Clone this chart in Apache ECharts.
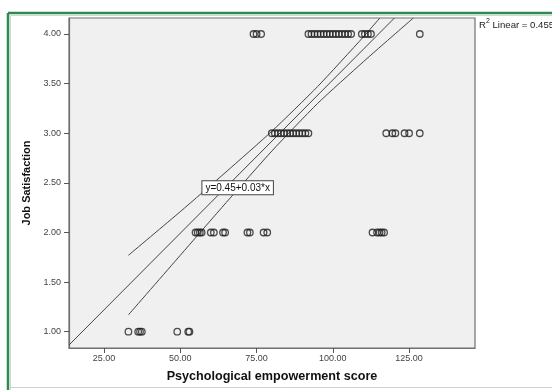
<!DOCTYPE html>
<html>
<head>
<meta charset="utf-8">
<script src="https://cdn.jsdelivr.net/npm/echarts@6/dist/echarts.min.js"></script>
<style>
html,body{margin:0;padding:0;background:#fff;}
#c{width:552px;height:390px;}
</style>
</head>
<body>
<div id="c"></div>
<script>
// Tick labels
const xTicks = [25, 50, 75, 100, 125];
const yTicks = [1, 1.5, 2, 2.5, 3, 3.5, 4];

// Observed points: psychological empowerment score per job-satisfaction level
const score1 = [33, 36.2, 36.8, 37.4, 49, 52.6, 53];
const score2 = [55, 55.7, 56.4, 57, 60, 61, 64, 64.7, 72, 72.8, 77.3, 78.5, 113, 114.5, 115.3, 116, 116.8];
const score3 = [80, 81, 82, 83, 84, 85, 86, 87, 88, 89, 90, 91, 92, 117.5, 119.5, 120.5, 123.5, 125, 128.5];
const score4 = [74, 75, 76.5, 92, 93, 94, 95, 96, 97, 98, 99, 100, 101, 102, 103, 104, 105, 106, 109.5, 110.5, 111.5, 112.5, 128.5];
const levels = [1, 2, 3, 4];

// Fit line endpoints
const fitX = [13.52, 120.2];
const fitY = [0.866, 4.161];

// Confidence band
const ciUpperX = [33, 50, 65, 80, 95, 110, 115.4];
const ciUpperY = [1.77, 2.21, 2.61, 3.02, 3.47, 3.97, 4.161];
const ciLowerX = [33, 50, 65, 80, 95, 110, 120, 126.4];
const ciLowerY = [1.17, 1.77, 2.30, 2.82, 3.30, 3.72, 3.99, 4.161];

const eqText = 'y=0.45+0.03*x';
const legendText = 'Linear = 0.455';

const FONT = '"Liberation Sans", Arial, sans-serif';

const scatterData = [];
[score1, score2, score3, score4].forEach((arr, i) => {
  arr.forEach(v => scatterData.push([v, levels[i]]));
});
const zip = (a, b) => a.map((v, i) => [v, b[i]]);

const chart = echarts.init(document.getElementById('c'), null, {renderer: 'canvas'});
chart.setOption({
  animation: false,
  backgroundColor: '#fff',
  grid: {
    left: 69, top: 18, width: 406, height: 330,
    show: true, backgroundColor: '#f0f0f0', borderColor: '#707070', borderWidth: 1.2
  },
  xAxis: {
    type: 'value', min: 13.52, max: 146.6,
    name: 'Psychological empowerment score',
    nameLocation: 'middle', nameGap: 22,
    nameTextStyle: {fontFamily: FONT, fontWeight: 'bold', fontSize: 12.6, color: '#111'},
    axisLine: {show: true, lineStyle: {color: '#707070', width: 1.2}},
    axisTick: {show: true, length: 5, customValues: xTicks, lineStyle: {color: '#555'}},
    axisLabel: {customValues: xTicks, margin: 6, fontFamily: FONT, fontSize: 9, color: '#444',
      formatter: v => v.toFixed(2)},
    splitLine: {show: false}
  },
  yAxis: {
    type: 'value', min: 0.836, max: 4.161,
    name: 'Job Satisfaction',
    nameLocation: 'middle', nameGap: 35, nameRotate: 90,
    nameTextStyle: {fontFamily: FONT, fontWeight: 'bold', fontSize: 11, color: '#111'},
    axisLine: {show: true, lineStyle: {color: '#707070', width: 1.2}},
    axisTick: {show: true, length: 5, customValues: yTicks, lineStyle: {color: '#555'}},
    axisLabel: {customValues: yTicks, margin: 8, fontFamily: FONT, fontSize: 9, color: '#444',
      formatter: v => v.toFixed(2)},
    splitLine: {show: false}
  },
  series: [
    {
      type: 'line', data: zip(ciUpperX, ciUpperY), showSymbol: false, smooth: 0.2,
      lineStyle: {color: '#444', width: 1}, z: 3
    },
    {
      type: 'line', data: zip(ciLowerX, ciLowerY), showSymbol: false, smooth: 0.2,
      lineStyle: {color: '#444', width: 1}, z: 3
    },
    {
      type: 'line', data: zip(fitX, fitY), showSymbol: false,
      lineStyle: {color: '#444', width: 1}, z: 3,
      markPoint: {
        symbol: 'rect', symbolSize: 0,
        data: [{coord: [68.8, 2.45]}],
        label: {
          show: true, position: 'inside', formatter: eqText,
          backgroundColor: '#fff', borderColor: '#444', borderWidth: 1,
          padding: [2, 3, 1, 3], color: '#111', fontSize: 10, fontFamily: FONT
        }
      }
    },
    {
      type: 'scatter', data: scatterData, symbol: 'circle', symbolSize: 6.5,
      itemStyle: {color: 'rgba(0,0,0,0)', borderColor: '#222', borderWidth: 1.3}, z: 4
    }
  ],
  graphic: [
    {type: 'line', shape: {x1: 8, y1: 13, x2: 560, y2: 13}, style: {stroke: '#2e8b50', lineWidth: 2.5}},
    {type: 'line', shape: {x1: 8, y1: 13, x2: 8, y2: 395}, style: {stroke: '#2e8b50', lineWidth: 2.5}},
    {type: 'line', shape: {x1: 10.5, y1: 15.5, x2: 560, y2: 15.5}, style: {stroke: '#c8dccd', lineWidth: 1}},
    {type: 'line', shape: {x1: 10.5, y1: 15.5, x2: 10.5, y2: 395}, style: {stroke: '#c8dccd', lineWidth: 1}},
    {type: 'line', shape: {x1: 10, y1: 387.5, x2: 560, y2: 387.5}, style: {stroke: '#d0d0d0', lineWidth: 1}},
    {
      type: 'text', left: 479, top: 18,
      style: {
        text: '{r|R}{s|2}{r| ' + legendText + '}',
        rich: {
          r: {fontFamily: FONT, fontSize: 9.6, fill: '#222', verticalAlign: 'bottom', lineHeight: 12},
          s: {fontFamily: FONT, fontSize: 7, fill: '#222', verticalAlign: 'top', lineHeight: 12}
        }
      }
    }
  ]
});
</script>
</body>
</html>
